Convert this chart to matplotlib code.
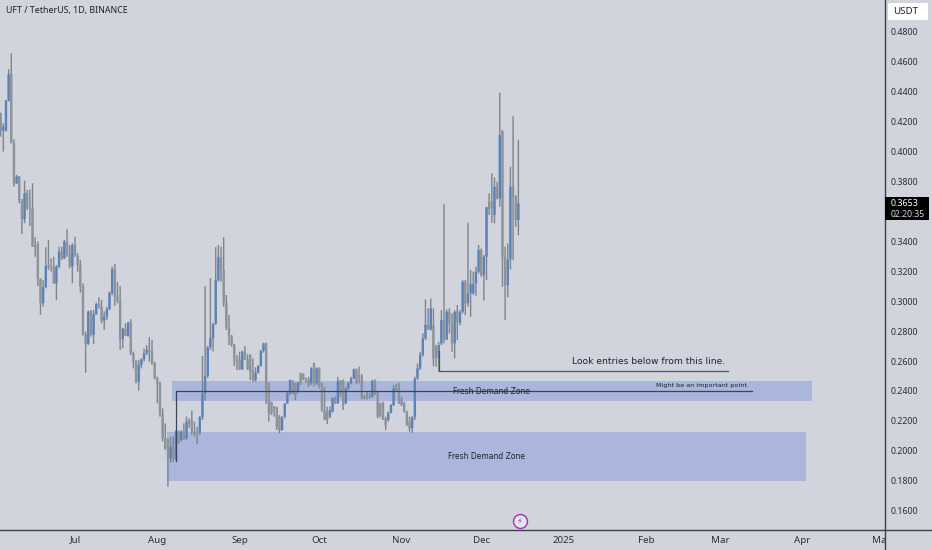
import numpy as np
import pandas as pd
import matplotlib
matplotlib.use('Agg')
import matplotlib.pyplot as plt
import matplotlib.dates as mdates
from matplotlib.patches import Rectangle
from matplotlib.transforms import Bbox

# daily candles, first candle is 3 Jun 2024
opens = [.4251,.4139,.4139,.4340,.4516,.4059,.3787,.3836,.3680,.3547,.3721,.3625,.3625,.3375,.3382,.3146,.2986,.3093,.3242,.3235,
         .3231,.3119,.3231,.3331,.3286,.3398,.3320,.3231,.3375,.3302,.3242,.3097,.2774,.2714,.2930,.2774,.2914,.2981,.2963,.2870,
         .2897,.2946,.3057,.3213,.3030,.3003,.2745,.2816,.2767,.2856,.2652,.2596,.2462,.2574,.2612,.2652,.2674,.2669,.2585,.2485,
         .2451,.2246,.2084,.2073,.1950,.2028,.1950,.2128,.2073,.2128,.2084,.2206,.2206,.2128,.2128,.2122,.2224,.2384,.2500,.2692,
         .2752,.2848,.3142,.3293,.3208,.2990,.2825,.2763,.2707,.2618,.2607,.2544,.2662,.2611,.2640,.2540,.2473,.2522,.2567,.2669,
         .2718,.2451,.2328,.2295,.2290,.2228,.2139,.2228,.2317,.2384,.2462,.2451,.2395,.2518,.2513,.2477,.2477,.2451,.2584,.2451,.2551,
         .2451,.2273,.2261,.2228,.2261,.2351,.2317,.2466,.2466,.2317,.2417,.2451,.2484,.2544,.2506,.2495,.2362,.2362,.2362,.2362,
         .2469,.2384,.2317,.2322,.2217,.2206,.2255,.2306,.2417,.2417,.2351,.2317,.2261,.2195,.2150,.2228,.2484,.2551,.2640,.2751,
         .2840,.2811,.2840,.2695,.2618,.2718,.2874,.2744,.2929,.2851,.2718,.2929,.2856,.2929,.3130,.2985,.3052,.3052,.3119,.3197,
         .3341,.3174,.3297,.3664,.3664,.3575,.3764,.3686,.4132,.3297,.3107,.3279,.3764,.3698,.3542]
highs = [.4260,.4188,.4344,.4549,.4656,.4081,.3843,.3836,.3680,.3805,.3743,.3747,.3787,.3427,.3398,.3153,.3142,.3360,.3409,.3286,
         .3297,.3242,.3364,.3364,.3409,.3480,.3375,.3387,.3431,.3320,.3275,.3119,.2796,.2937,.2941,.2941,.2990,.3026,.3008,.2930,
         .2963,.3064,.3231,.3248,.3130,.3102,.2821,.2852,.2863,.2879,.2663,.2607,.2607,.2618,.2685,.2707,.2759,.2741,.2596,.2496,
         .2462,.2284,.2184,.2084,.2095,.2095,.2139,.2135,.2139,.2184,.2229,.2217,.2269,.2195,.2162,.2233,.2634,.3101,.2701,.3153,
         .2856,.3360,.3375,.3364,.3427,.3041,.2908,.2774,.2714,.2640,.2662,.2669,.2700,.2645,.2645,.2618,.2558,.2573,.2673,.2722,
         .2722,.2455,.2328,.2299,.2295,.2239,.2233,.2317,.2395,.2477,.2473,.2455,.2462,.2522,.2518,.2490,.2495,.2558,.2589,.2558,.2558,
         .2455,.2428,.2295,.2295,.2357,.2362,.2495,.2473,.2477,.2428,.2460,.2495,.2549,.2551,.2562,.2513,.2373,.2395,.2388,.2473,
         .2477,.2395,.2322,.2328,.2228,.2261,.2313,.2440,.2446,.2455,.2362,.2328,.2268,.2228,.2228,.2495,.2584,.2662,.2785,.3012,
         .2952,.3018,.2952,.2707,.2729,.2940,.3649,.2945,.2952,.2918,.2940,.2974,.2940,.3141,.3141,.3524,.3208,.3197,.3230,.3375,
         .3352,.3308,.3631,.3720,.3853,.3827,.3798,.4392,.4143,.3364,.3386,.3898,.4236,.3709,.4076]
lows = [.4099,.3999,.4133,.4333,.4055,.3765,.3783,.3654,.3447,.3520,.3609,.3502,.3364,.3297,.3101,.2908,.2963,.3086,.3208,.3197,
        .3115,.3008,.3220,.3275,.3280,.3297,.3220,.3119,.3297,.3197,.3057,.2770,.2522,.2707,.2763,.2714,.2908,.2952,.2852,.2807,
        .2874,.2941,.3041,.2968,.2986,.2674,.2685,.2767,.2763,.2640,.2551,.2451,.2402,.2551,.2596,.2640,.2596,.2574,.2478,.2318,
        .2229,.2062,.2006,.1761,.1921,.1928,.1939,.2046,.2062,.2073,.2073,.2151,.2106,.2095,.2046,.2106,.2206,.2335,.2485,.2674,
        .2663,.2841,.3130,.3130,.2963,.2807,.2707,.2696,.2567,.2540,.2540,.2540,.2607,.2540,.2473,.2462,.2462,.2518,.2562,.2656,
        .2313,.2195,.2239,.2228,.2139,.2117,.2135,.2217,.2313,.2373,.2379,.2339,.2384,.2440,.2473,.2455,.2429,.2440,.2429,.2440,.2417,
        .2261,.2206,.2179,.2217,.2255,.2313,.2313,.2362,.2273,.2313,.2406,.2446,.2477,.2446,.2451,.2344,.2344,.2344,.2351,.2357,
        .2373,.2217,.2224,.2206,.2139,.2195,.2250,.2299,.2402,.2313,.2299,.2255,.2166,.2128,.2121,.2206,.2473,.2540,.2629,.2740,
        .2807,.2802,.2566,.2562,.2528,.2707,.2718,.2740,.2784,.2662,.2618,.2740,.2840,.2918,.2907,.2963,.2896,.3041,.3034,.3185,
        .3163,.3003,.3141,.3575,.3524,.3519,.3680,.3631,.3096,.2874,.3025,.3212,.3274,.3497,.3441]
closes = [.4139,.4166,.4340,.4516,.4055,.3787,.3832,.3676,.3547,.3721,.3625,.3620,.3364,.3360,.3146,.2986,.3093,.3235,.3231,.3226,
          .3119,.3231,.3331,.3286,.3398,.3320,.3231,.3375,.3302,.3242,.3097,.2774,.2714,.2930,.2774,.2914,.2981,.2963,.2870,.2897,
          .2946,.3057,.3213,.3030,.3003,.2745,.2816,.2767,.2856,.2652,.2596,.2462,.2574,.2612,.2652,.2674,.2663,.2585,.2485,.2447,
          .2246,.2084,.2017,.1950,.2028,.1950,.2128,.2062,.2128,.2084,.2195,.2184,.2128,.2117,.2117,.2224,.2384,.2500,.2692,.2752,
          .2848,.3142,.3293,.3208,.2990,.2825,.2763,.2707,.2618,.2596,.2544,.2662,.2611,.2544,.2529,.2473,.2522,.2567,.2669,.2718,
          .2384,.2250,.2250,.2284,.2161,.2139,.2224,.2317,.2384,.2473,.2384,.2362,.2455,.2451,.2477,.2470,.2433,.2551,.2451,.2551,.2429,
          .2273,.2210,.2210,.2273,.2351,.2317,.2466,.2384,.2306,.2417,.2451,.2484,.2544,.2451,.2495,.2351,.2351,.2351,.2357,.2469,
          .2384,.2228,.2239,.2210,.2172,.2255,.2306,.2417,.2406,.2317,.2306,.2261,.2172,.2150,.2228,.2484,.2551,.2640,.2751,.2841,
          .2811,.2952,.2618,.2618,.2707,.2874,.2740,.2929,.2851,.2718,.2929,.2856,.2929,.3130,.2985,.3052,.3114,.3114,.3197,.3341,
          .3174,.3297,.3626,.3613,.3620,.3764,.3686,.4110,.3297,.3107,.3279,.3764,.3698,.3542,.3653]

dates = pd.date_range('2024-06-03', periods=len(opens))
month_ticks = ['2024-07-01', '2024-08-01', '2024-09-01', '2024-10-01', '2024-11-01', '2024-12-01',
               '2025-01-01', '2025-02-01', '2025-03-01', '2025-04-01', '2025-05-01']
month_labels = ['Jul', 'Aug', 'Sep', 'Oct', 'Nov', 'Dec', '2025', 'Feb', 'Mar', 'Apr', 'May']
price_ticks = [.48, .46, .44, .42, .40, .38, .34, .32, .30, .28, .26, .24, .22, .20, .18, .16]

BG = '#d1d4dc'
UP = '#5b82b8'
DOWN = '#8e9299'
WICK = '#7f848c'
ZONE = '#aab6db'
LINE = '#36465a'

fig = plt.figure(figsize=(9.32, 5.5), dpi=100, facecolor=BG)
ax = fig.add_axes([0, 20 / 550, 885 / 932, 530 / 550], facecolor=BG)

# time scale: 1 Jul 2024 sits at 75px, about 2.655px a day
x_jul = mdates.date2num(pd.Timestamp('2024-07-01'))
ax.set_xlim(x_jul - 75 / 2.655, x_jul + 810 / 2.655)
ax.set_ylim(.48 - (530 - 31.7) / 1497, .48 + 31.7 / 1497)

x = mdates.date2num(dates)
o = np.array(opens)
h = np.array(highs)
l = np.array(lows)
c = np.array(closes)

# demand zones go under the candles
def zone(start, end, low, high):
    x0 = mdates.date2num(pd.Timestamp(start))
    x1 = mdates.date2num(pd.Timestamp(end))
    ax.add_patch(Rectangle((x0, low), x1 - x0, high - low, fc=ZONE, ec='none', zorder=1))

zone('2024-08-06 12:00', '2025-04-04 12:00', .2333, .2465)
zone('2024-08-04 12:00', '2025-04-02 08:00', .1799, .2126)

wicks = ax.vlines(x, l, h, color=WICK, lw=1.0, zorder=2)
wicks.set_snap(False)
up = c >= o
# snap off gives the soft edges of the screenshot
for bar in ax.bar(x[up], (c - o)[up], bottom=o[up], width=0.9, color=UP, zorder=3, lw=0):
    bar.set_snap(False)
for bar in ax.bar(x[~up], (c - o)[~up], bottom=o[~up], width=0.9, color=DOWN, zorder=3, lw=0):
    bar.set_snap(False)

# drawn lines and notes
line_a_x = mdates.date2num(pd.Timestamp('2024-08-08'))
line_a_end = mdates.date2num(pd.Timestamp('2025-03-13'))
ax.plot([line_a_x, line_a_x, line_a_end], [.1935, .2398, .2398], color=LINE, lw=0.9, zorder=4)
line_b_x = mdates.date2num(pd.Timestamp('2024-11-15'))
line_b_end = mdates.date2num(pd.Timestamp('2025-03-04'))
ax.plot([line_b_x, line_b_x, line_b_end], [.2670, .2531, .2531], color='#44604f', lw=0.9, zorder=4)

ax.text(mdates.date2num(pd.Timestamp('2024-12-05')), .2398, 'Fresh Demand Zone', fontsize=5.5,
        ha='center', va='center', color='#1c2430', zorder=5)
ax.text(mdates.date2num(pd.Timestamp('2024-12-03')), .1962, 'Fresh Demand Zone', fontsize=5.5,
        ha='center', va='center', color='#1c2430', zorder=5)
ax.text(mdates.date2num(pd.Timestamp('2025-03-03')), .2595, 'Look entries below from this line.', fontsize=6.6,
        ha='right', va='center', color='#1c2430', zorder=5)
ax.text(mdates.date2num(pd.Timestamp('2025-03-12')), .2435, 'Might be an important point.', fontsize=4.6,
        ha='right', va='center', color='#1c2430', zorder=5)

# lightning badge on the time scale
badge_x = mdates.date2num(pd.Timestamp('2024-12-15 12:00'))
ax.plot([badge_x], [.1533], marker='o', ms=10, mfc='#e6e7ee', mec='#a431b8', mew=1, zorder=5)
ax.text(badge_x, .1533, '\u26a1', fontsize=6, color='#a431b8', ha='center', va='center', zorder=6)

# axes
ax.set_xticks(mdates.date2num(pd.to_datetime(month_ticks)))
ax.set_xticklabels(month_labels, fontsize=7, family='Noto Sans', color='#2a2e39')
ax.get_xticklabels()[6].set_fontweight('bold')
ax.yaxis.tick_right()
ax.set_yticks(price_ticks)
ax.set_yticklabels(['%.4f' % p for p in price_ticks], fontsize=6.4, family='Noto Sans', color='#2a2e39')
ax.tick_params(axis='both', length=0)
ax.tick_params(axis='x', pad=4)
ax.tick_params(axis='y', pad=4)
for side in ['top', 'left']:
    ax.spines[side].set_visible(False)
ax.spines['right'].set_color('#3a3f4a')
ax.spines['bottom'].set_color('#3a3f4a')
ax.spines['right'].set_linewidth(1)
ax.spines['bottom'].set_linewidth(1)
# right spine runs on to the bottom edge of the picture
fig.add_artist(plt.Line2D([885 / 932, 885 / 932], [0, 20 / 550], color='#3a3f4a', lw=1))
fig.add_artist(plt.Line2D([885 / 932, 1], [20 / 550, 20 / 550], color='#3a3f4a', lw=1))

# the May label is cut by the price scale
fig.canvas.draw()
ax.get_xticklabels()[-1].set_clip_box(Bbox([[0, 0], [885, 550]]))
ax.get_xticklabels()[-1].set_clip_on(True)

fig.text(6 / 932, 1 - 11 / 550, 'UFT / TetherUS, 1D, BINANCE', fontsize=6.4, fontweight='bold',
         family='Noto Sans', color='#1e222d', ha='left', va='center')

# price scale boxes
fig.patches.append(Rectangle((888 / 932, 1 - 20 / 550), 40 / 932, 17 / 550, transform=fig.transFigure,
                             fc='white', ec='none'))
fig.text(906 / 932, 1 - 12 / 550, 'USDT', fontsize=7, family='Noto Sans', color='#1e222d', ha='center', va='center')
fig.patches.append(Rectangle((885 / 932, 1 - 220 / 550), 44 / 932, 23 / 550, transform=fig.transFigure,
                             fc='black', ec='none'))
fig.text(891 / 932, 1 - 203 / 550, '0.3653', fontsize=6.4, fontweight='bold', family='Noto Sans', color='white',
         ha='left', va='center')
fig.text(891 / 932, 1 - 214 / 550, '02:20:35', fontsize=6.2, family='Noto Sans', color='#d8dae0',
         ha='left', va='center')

fig.savefig('out.png', dpi=100, facecolor=BG)
